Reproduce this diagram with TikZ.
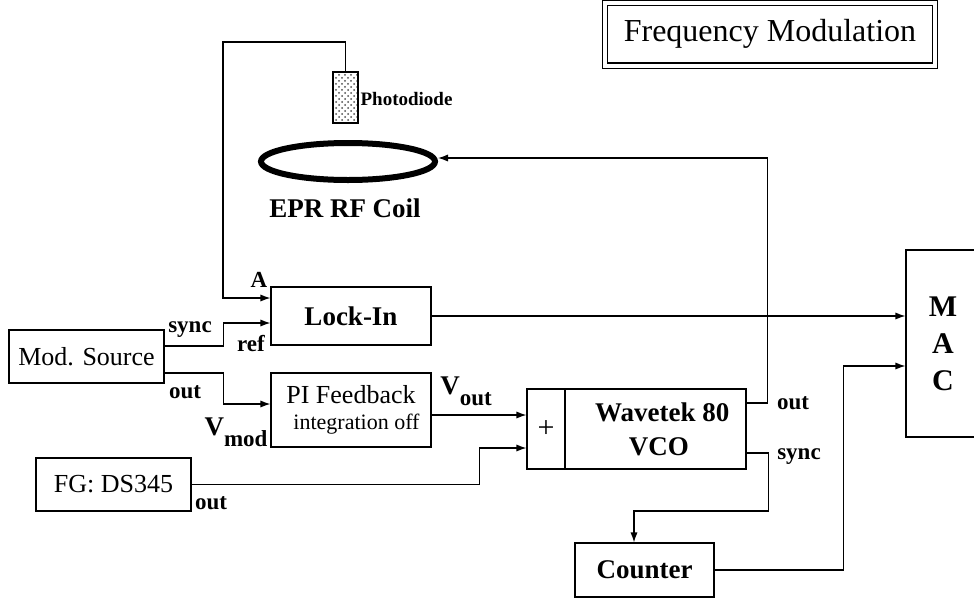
\documentclass[tikz,border=0pt]{standalone}
\usepackage{fontspec}
\setmainfont{Liberation Serif}
\usetikzlibrary{arrows.meta}
\usetikzlibrary{patterns}
\usetikzlibrary{shapes.geometric}

\begin{document}
\begin{tikzpicture}[x=0.5pt, y=-0.5pt, line width=0.6pt,
  sig/.style={-{Latex[length=5pt,width=3.6pt]}},
  box/.style={draw, inner sep=0pt, font=\fontsize{13}{15}\selectfont},
  bbox/.style={draw, inner sep=0pt, font=\fontsize{13.5}{17}\selectfont\bfseries},
  lbl/.style={inner sep=0pt, font=\fontsize{11.5}{13}\selectfont\bfseries}]
\useasboundingbox (0,0) rectangle (974,600);

% title
\node[box, double, double distance=2pt, minimum width=165pt, minimum height=31.5pt,
  font=\fontsize{16}{18}\selectfont] (title) at (770,34) {Frequency Modulation};

% sample: photodiode over the rf coil
\node[draw, line width=1pt, inner sep=0pt, minimum width=12.5pt, minimum height=25.5pt,
  pattern=crosshatch dots, pattern color=black!70] (pd) at (345.5,97.5) {};
\node[lbl, font=\fontsize{9.5}{11}\selectfont\bfseries, anchor=west] (pdlbl) at (360,99) {Photodiode};
\node[ellipse, draw, line width=3pt, inner sep=0pt, minimum width=87pt, minimum height=18.5pt] (coil) at (348,161.5) {};
\node[lbl, font=\fontsize{13.5}{16}\selectfont\bfseries] (coillbl) at (345,208) {EPR RF Coil};

% boxes
\node[bbox, minimum width=80pt, minimum height=29pt] (lockin) at (351,316) {Lock-In};
\node[box, minimum width=77.5pt, minimum height=26.5pt] (modsrc) at (86.5,356.5) {Mod. Source};
\node[box, minimum width=80pt, minimum height=37pt, align=center] (pifb) at (351,410)
  {PI Feedback\\[-2pt] {\fontsize{11}{13}\selectfont\ \ integration off}};
\node[box, minimum width=77.5pt, minimum height=26.5pt] (fg) at (113.5,484.5) {FG: DS345};
\node[box, minimum width=19pt, minimum height=40pt, font=\fontsize{15}{17}\selectfont] (plus) at (546,429) {+};
\node[bbox, minimum width=90.5pt, minimum height=40pt, align=center] (vco) at (655.5,429) {\ \ Wavetek 80\\ \ VCO};
\node[bbox, minimum width=69.5pt, minimum height=27pt] (counter) at (644.5,570) {Counter};
\node[bbox, minimum width=37pt, minimum height=93.5pt, align=center,
  font=\fontsize{15}{18.5}\selectfont\bfseries] (mac) at (943,343.5) {M\\A\\C};

% port labels
\node[lbl] (lA) at (259,280) {A};
\node[lbl] (lsync) at (190,330) {sync};
\node[lbl] (lref) at (251,344) {ref};
\node[lbl] (lout) at (185,392) {out};
\node[lbl, font=\fontsize{13.5}{16}\selectfont\bfseries] (lvmod) at (236,432) {V\raisebox{-5.5pt}{\fontsize{11.5}{13}\selectfont mod}};
\node[lbl, font=\fontsize{13.5}{16}\selectfont\bfseries] (lvout) at (466,391) {V\raisebox{-5.5pt}{\fontsize{11.5}{13}\selectfont out}};
\node[lbl] (lfgout) at (211,503) {out};
\node[lbl] (lvcoout) at (793,403) {out};
\node[lbl] (lvcosync) at (799,457) {sync};

% connection points
\coordinate (turn) at (223,42);
\coordinate (lockA) at ([yshift=9pt]lockin.west);
\coordinate (lockref) at ([yshift=-3.5pt]lockin.west);
\coordinate (msync) at ([yshift=5.25pt]modsrc.east);
\coordinate (mout) at ([yshift=-8.25pt]modsrc.east);
\coordinate (piin) at ([yshift=3pt]pifb.west);
\coordinate (piout) at ([yshift=-2.5pt]pifb.east);
\coordinate (plusB) at ([yshift=-9.5pt]plus.west);
\coordinate (vout) at ([yshift=13pt]vco.east);
\coordinate (vsync) at ([yshift=-12pt]vco.east);
\coordinate (cntin) at ([xshift=-5.25pt]counter.north);
\coordinate (macB) at ([yshift=-11.25pt]mac.west);

% wiring
\draw[sig] (pd.north) |- (turn) |- (lockA);
\draw[sig] (msync) -- ++(59,0) |- (lockref);
\draw[sig] (mout) -- ++(59,0) |- (piin);
\draw[sig] (piout) -- (piout -| plus.west);
\draw[sig] (fg.east) -- ++(288,0) |- (plusB);
\draw[sig] (vout) -- ++(21,0) |- ([yshift=1.75pt]coil.east);
\draw[sig] (vsync) -- ++(22,0) -- ++(0,58) -| (cntin);
\draw[sig] (lockin.east) -- (lockin.east -| mac.west);
\draw[sig] (counter.east) -- ++(129,0) |- (macB);
\end{tikzpicture}
\end{document}
